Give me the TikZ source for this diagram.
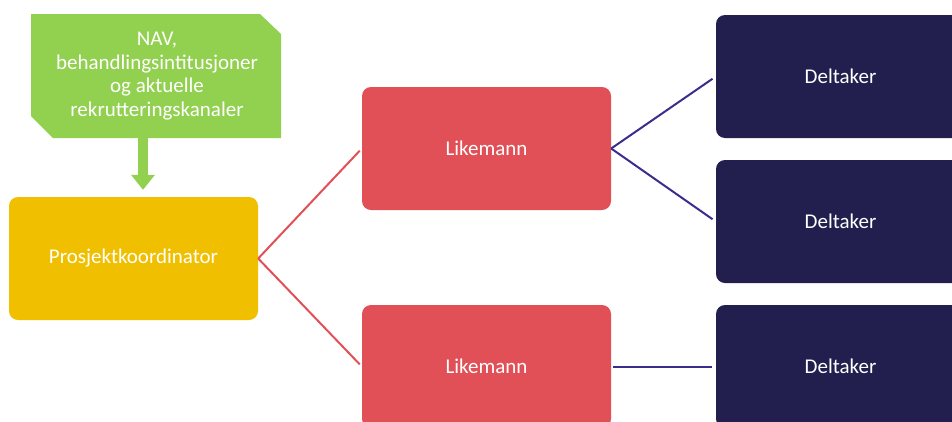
\documentclass[tikz,border=0pt]{standalone}
\usepackage{fontspec}
\setmainfont{Carlito}
\usetikzlibrary{arrows.meta}
\definecolor{cgreen}{HTML}{92D050}
\definecolor{cyellow}{HTML}{F0C000}
\definecolor{cred}{HTML}{E15057}
\definecolor{cnavy}{HTML}{221F4F}
\definecolor{cline}{HTML}{3A2E8C}
\tikzset{
  box/.style={rounded corners=9pt, minimum width=249pt, minimum height=123pt, inner sep=0pt,
    text=white, font=\fontsize{21}{24}\selectfont, align=center},
  coord/.style={box, fill=cyellow},
  peer/.style={box, fill=cred},
  part/.style={box, fill=cnavy},
  redline/.style={draw=cred, line width=2pt},
  navyline/.style={draw=cline, line width=2pt},
}
\begin{document}
\begin{tikzpicture}[x=1pt,y=-1pt]
\useasboundingbox (0,0) rectangle (952,421);
\clip (0,0) rectangle (952,421);
% green source box with snipped corners
\fill[cgreen] (31,14) -- (260,14) -- (281,34) -- (281,138) -- (53,138) -- (31,116) -- cycle;
\node[text=white, font=\fontsize{21}{23.7}\selectfont, align=center, inner sep=0pt] (src) at (157,76)
  {NAV,\\behandlingsintitusjoner\\og aktuelle\\rekrutteringskanaler};
\coordinate (srcbot) at (143,138);
\node[coord] (pk) at (133.5,258.5) {Prosjektkoordinator};
\node[peer] (l1) at (486.5,148.5) {Likemann};
\node[peer] (l2) at (486.5,366.5) {Likemann};
\node[part] (d1) at (840.5,76.5) {Deltaker};
\node[part] (d2) at (840.5,221.5) {Deltaker};
\node[part] (d3) at (840.5,366.5) {Deltaker};
\draw[cgreen, line width=10pt, shorten >=7pt, -{Triangle[width=23pt,length=15pt]}] (srcbot) -- (srcbot |- pk.north);
\draw[redline, shorten >=3pt] (pk.east) -- (l1.west);
\draw[redline, shorten >=3pt] (pk.east) -- (l2.west);
\draw[navyline, shorten >=4pt] (l1.east) -- (d1.west);
\draw[navyline, shorten >=4pt] (l1.east) -- (d2.west);
\draw[navyline, shorten >=4pt, shorten <=2pt] (l2.east) -- (d3.west);
\end{tikzpicture}
\end{document}
